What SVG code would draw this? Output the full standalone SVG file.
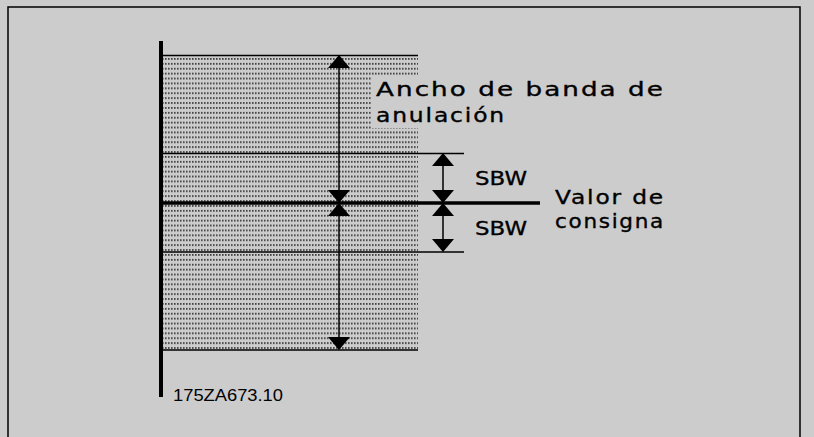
<svg xmlns="http://www.w3.org/2000/svg" width="814" height="437" viewBox="0 0 814 437">
<style>
.thin{stroke:#000;stroke-width:1.5;fill:none}
.lbl{font-family:"DejaVu Sans",sans-serif;font-size:19px;letter-spacing:1.5px;fill:#000;stroke:#000;stroke-width:0.35}
.code{font-family:"Liberation Sans",sans-serif;font-size:16px;fill:#000}
</style>
<defs>
<pattern id="dots" patternUnits="userSpaceOnUse" x="0" y="57" width="3" height="4.9">
<rect x="0" y="1" width="1.6" height="1.8" fill="#404040"/>
</pattern>
<path id="hd" d="M-11,0 L11,0 L0,-13 Z" fill="#000"/>
</defs>
<rect width="814" height="437" fill="#cccccc"/>
<path d="M8,437 V7 H800 V437" stroke="#000" stroke-width="1.5" fill="none"/>
<g id="bands">
<rect x="163" y="56" width="255" height="293" fill="url(#dots)"/>
<rect x="372" y="77" width="48" height="51" fill="#cccccc"/>
</g>
<g id="lines">
<line x1="161" y1="41" x2="161" y2="397" stroke="#000" stroke-width="4"/>
<line x1="162" y1="55.5" x2="418" y2="55.5" class="thin"/>
<line x1="162" y1="153.5" x2="464" y2="153.5" class="thin"/>
<line x1="162" y1="252" x2="464" y2="252" class="thin"/>
<line x1="162" y1="350" x2="418" y2="350" class="thin"/>
<line x1="162" y1="203" x2="540" y2="203" stroke="#000" stroke-width="3.5"/>
</g>
<g id="connectors">
<line x1="339" y1="60" x2="339" y2="346" class="thin"/>
<use href="#hd" x="339" y="68"/>
<use href="#hd" transform="translate(339,190) scale(1,-1)"/>
<use href="#hd" x="339" y="216"/>
<use href="#hd" transform="translate(339,337) scale(1,-1)"/>
<line x1="443" y1="158" x2="443" y2="248" class="thin"/>
<use href="#hd" x="443" y="166"/>
<use href="#hd" transform="translate(443,190) scale(1,-1)"/>
<use href="#hd" x="443" y="216"/>
<use href="#hd" transform="translate(443,239) scale(1,-1)"/>
</g>
<g id="labels">
<text class="lbl" x="376" y="95.5" textLength="289" lengthAdjust="spacingAndGlyphs">Ancho de banda de</text>
<text class="lbl" x="376" y="121.5" textLength="130" lengthAdjust="spacingAndGlyphs">anulación</text>
<text class="lbl" x="475" y="184.5" textLength="52" lengthAdjust="spacingAndGlyphs" style="letter-spacing:0;font-size:20px">SBW</text>
<text class="lbl" x="475" y="234.5" textLength="52" lengthAdjust="spacingAndGlyphs" style="letter-spacing:0;font-size:20px">SBW</text>
<text class="lbl" x="555" y="204" textLength="110" lengthAdjust="spacingAndGlyphs">Valor de</text>
<text class="lbl" x="555" y="227.5" textLength="110" lengthAdjust="spacingAndGlyphs">consigna</text>
<text class="code" x="173" y="401" textLength="110" lengthAdjust="spacingAndGlyphs">175ZA673.10</text>
</g>
</svg>
